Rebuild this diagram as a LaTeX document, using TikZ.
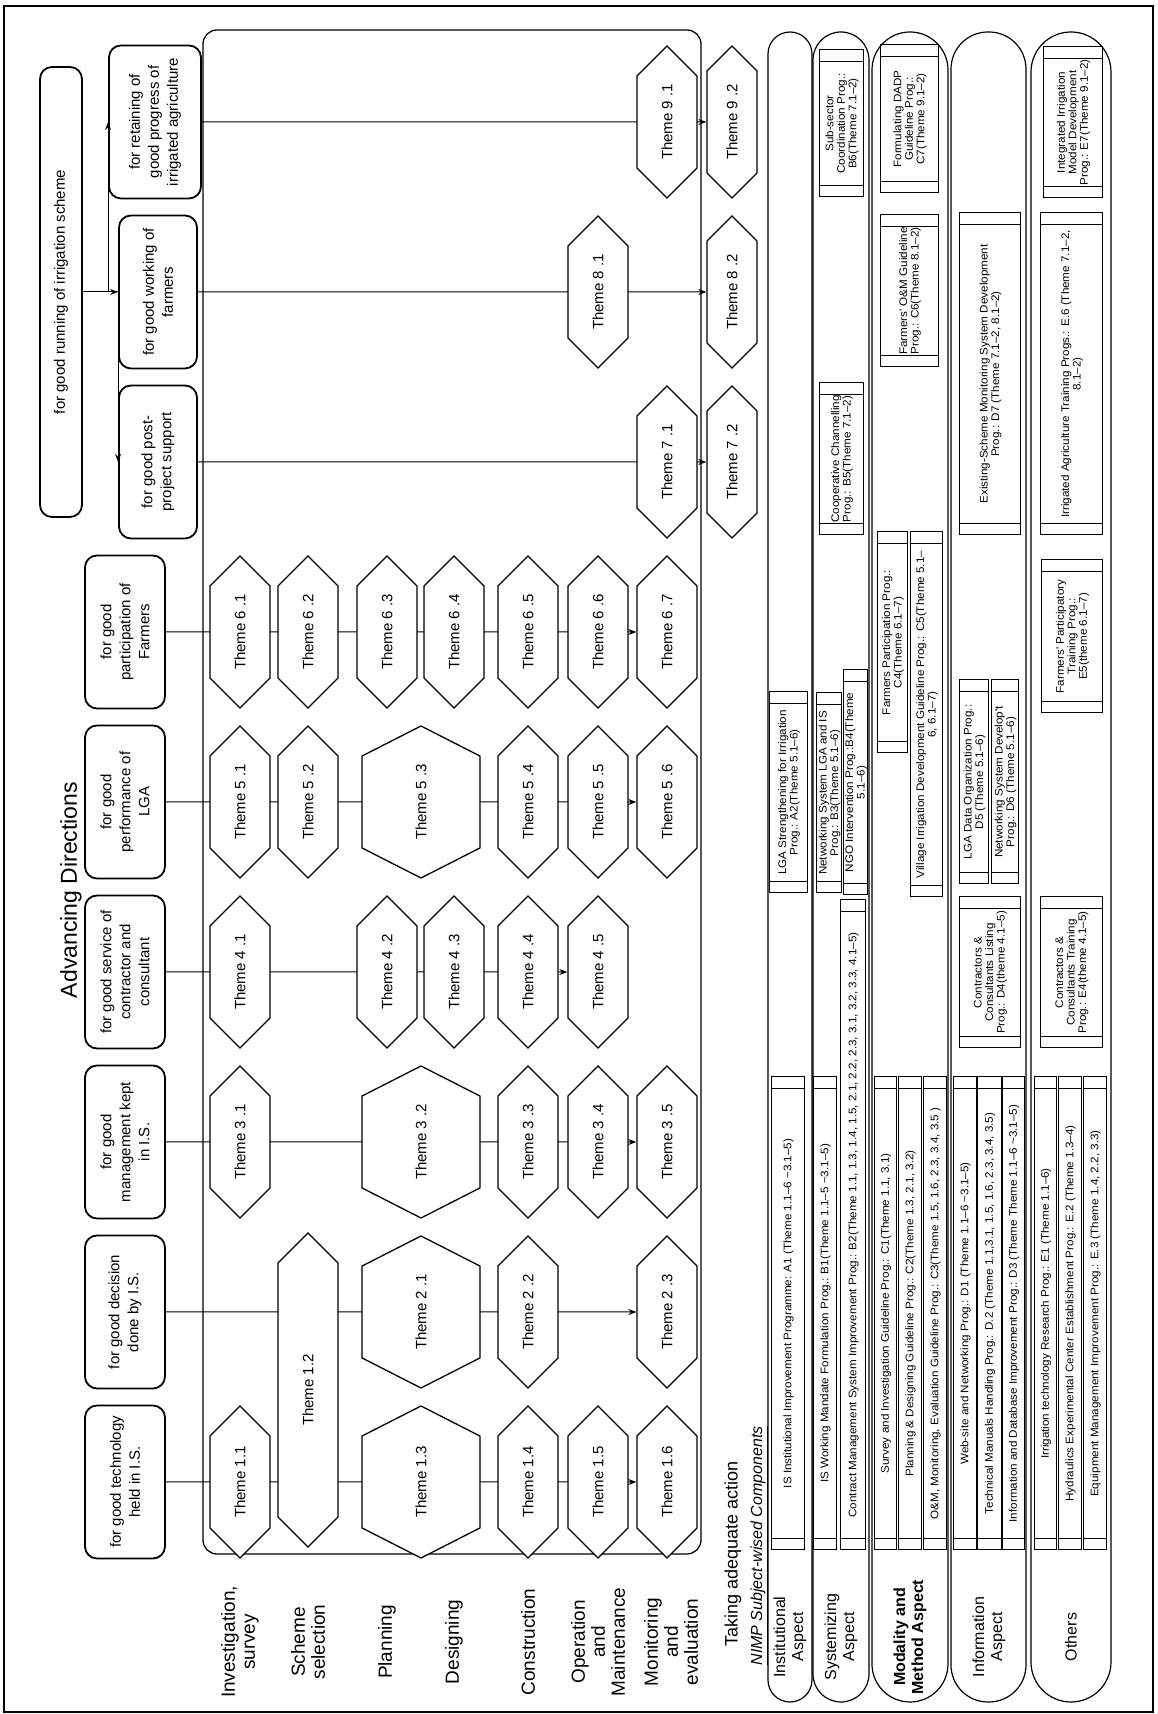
\documentclass[tikz,border=0pt]{standalone}
\usepackage{fontspec}
\setmainfont{Liberation Sans}
\newfontfamily\tabfont{Liberation Sans}[FakeStretch=1.06]
\usepackage{tikz}
\usetikzlibrary{shapes.symbols,backgrounds,calc,arrows.meta}

\newcommand{\themesize}{\fontsize{15pt}{18pt}\selectfont}
\newcommand{\boxsize}{\fontsize{15pt}{19pt}\selectfont}
\newcommand{\stagesize}{\fontsize{19pt}{20pt}\selectfont}
\newcommand{\aspectsize}{\fontsize{16pt}{18pt}\selectfont}
\newcommand{\tabsize}{\tabfont\fontsize{11pt}{11.5pt}\selectfont}
\newcommand{\wv}{\textasciitilde}

\begin{document}
\begin{tikzpicture}[x=1pt, y=1pt, rotate=90, transform shape,
    >={Stealth[length=8pt,width=6pt]},
    dirbox/.style={draw, line width=1.8pt, rounded corners=12pt, align=center,
        font=\boxsize, minimum width=153pt, minimum height=80pt, inner sep=2pt},
    theme/.style={draw, line width=1.3pt, fill=white, signal, signal to=west and east,
        signal pointer angle=90, font=\themesize, minimum width=152pt,
        minimum height=60pt, inner sep=0pt},
    bigtheme/.style={theme, minimum height=118pt, signal pointer angle=126},
    lowtheme/.style={theme, minimum height=50pt},
    comp/.style={draw, line width=1pt, align=center, font=\tabsize, inner sep=0pt,
        append after command={
          ($(\tikzlastnode.north west)!12pt!(\tikzlastnode.north east)$)
            edge[line width=1pt] ($(\tikzlastnode.south west)!12pt!(\tikzlastnode.south east)$)
          ($(\tikzlastnode.north east)!12pt!(\tikzlastnode.north west)$)
            edge[line width=1pt] ($(\tikzlastnode.south east)!12pt!(\tikzlastnode.south west)$)}},
    band/.style={draw, line width=1.2pt},
    stagelabel/.style={align=center, font=\stagesize},
    aspectlabel/.style={align=center, font=\aspectsize},
    link/.style={line width=1pt}]

    \useasboundingbox (0,0) rectangle (1714,1157);
    \draw[line width=1.2pt] (2,4) rectangle (1708,1153);

    % Title and goal
    \node[font=\fontsize{23pt}{26pt}\selectfont] (title) at (824,1086) {Advancing Directions};
    \node[dirbox, minimum width=450pt, minimum height=42pt] (run) at (1422,1096) {for good running of irrigation scheme};

    % Direction boxes
    \node[dirbox] (dTech) at (232,1032) {for good technology\\held in I.S.};
    \node[dirbox] (dDec) at (402,1032) {for good decision\\done by I.S.};
    \node[dirbox] (dMgmt) at (572,1032) {for good\\management kept\\in I.S.};
    \node[dirbox] (dCon) at (742,1032) {for good service of\\contractor and\\consultant};
    \node[dirbox] (dLga) at (912,1032) {for good\\performance of\\LGA};
    \node[dirbox] (dFarm) at (1082,1032) {for good\\participation of\\Farmers};
    \node[dirbox, minimum height=78pt] (dPost) at (1252,999) {for good post-\\project support};
    \node[dirbox, minimum height=78pt] (dWork) at (1422,999) {for good working of\\farmers};
    \node[dirbox, minimum height=92pt] (dRet) at (1592,1002) {for retaining of\\good progress of\\irrigated agriculture};

    \draw[link,->] (run.south) -- (dWork.north);
    \draw[link,->] (run.south) -- ++(0,-14) |- (dRet.north);
    \draw[link,->] (run.south) -- ++(0,-14) |- (dPost.north);

    % Stage labels
    \node[stagelabel] (sInv) at (72,917) {Investigation,\\survey};
    \node[stagelabel] (sSel) at (72,849) {Scheme\\selection};
    \node[stagelabel] (sPlan) at (72,770) {Planning};
    \node[stagelabel] (sDes) at (72,703) {Designing};
    \node[stagelabel] (sCon) at (72,629) {Construction};
    \node[stagelabel] (sOM) at (72,559) {Operation\\and\\Maintenance};
    \node[stagelabel] (sMon) at (72,486) {Monitoring\\and\\evaluation};
    \node[anchor=west, font=\fontsize{18pt}{20pt}\selectfont] (sAct) at (64,424) {Taking adequate action};

    % Themes
    \node[theme] (t11) at (232,917) {Theme 1.1};
    \node[theme, minimum width=314pt] (t12) at (324,849) {Theme 1.2};
    \node[bigtheme] (t13) at (232,736) {Theme 1.3};
    \node[theme] (t14) at (232,629) {Theme 1.4};
    \node[theme] (t15) at (232,559) {Theme 1.5};
    \node[theme] (t16) at (232,490) {Theme 1.6};

    \node[bigtheme] (t21) at (402,736) {Theme 2 .1};
    \node[theme] (t22) at (402,629) {Theme 2 .2};
    \node[theme] (t23) at (402,490) {Theme 2 .3};

    \node[theme] (t31) at (572,917) {Theme 3 .1};
    \node[bigtheme] (t32) at (572,736) {Theme 3 .2};
    \node[theme] (t33) at (572,629) {Theme 3 .3};
    \node[theme] (t34) at (572,559) {Theme 3 .4};
    \node[theme] (t35) at (572,490) {Theme 3 .5};

    \node[theme] (t41) at (742,917) {Theme 4 .1};
    \node[theme] (t42) at (742,770) {Theme 4 .2};
    \node[theme] (t43) at (742,703) {Theme 4 .3};
    \node[theme] (t44) at (742,629) {Theme 4 .4};
    \node[theme] (t45) at (742,559) {Theme 4 .5};

    \node[theme] (t51) at (912,917) {Theme 5 .1};
    \node[theme] (t52) at (912,849) {Theme 5 .2};
    \node[bigtheme] (t53) at (912,736) {Theme 5 .3};
    \node[theme] (t54) at (912,629) {Theme 5 .4};
    \node[theme] (t55) at (912,559) {Theme 5 .5};
    \node[theme] (t56) at (912,490) {Theme 5 .6};

    \node[theme] (t61) at (1082,917) {Theme 6 .1};
    \node[theme] (t62) at (1082,849) {Theme 6 .2};
    \node[theme] (t63) at (1082,770) {Theme 6 .3};
    \node[theme] (t64) at (1082,703) {Theme 6 .4};
    \node[theme] (t65) at (1082,629) {Theme 6 .5};
    \node[theme] (t66) at (1082,559) {Theme 6 .6};
    \node[theme] (t67) at (1082,490) {Theme 6 .7};

    \node[theme] (t71) at (1252,490) {Theme 7 .1};
    \node[lowtheme] (t72) at (1252,425) {Theme 7 .2};
    \node[theme] (t81) at (1422,559) {Theme 8 .1};
    \node[lowtheme] (t82) at (1422,425) {Theme 8 .2};
    \node[theme] (t91) at (1592,490) {Theme 9 .1};
    \node[lowtheme] (t92) at (1592,425) {Theme 9 .2};

    % Frame and column lines
    \begin{scope}[on background layer]
        \draw[line width=1.3pt, rounded corners=14pt] (160,456) rectangle (1684,954);
        \draw[link,->] (dTech) -- (t16);
        \draw[link,->] (dDec) -- (t23);
        \draw[link,->] (dMgmt) -- (t35);
        \draw[link,->] (dCon) -- (t45);
        \draw[link,->] (dLga) -- (t56);
        \draw[link,->] (dFarm) -- (t67);
        \draw[link,->] (dPost) -- (t72);
        \draw[link,->] (dWork) -- (t82);
        \draw[link,->] (dRet) -- (t92);
    \end{scope}

    % NIMP components
    \node[anchor=west, font=\fontsize{16pt}{18pt}\selectfont\itshape] (nimp) at (45,398) {\underline{NIMP Subject-wised Components}};

    \draw[band, rounded corners=22pt] (12,345) rectangle (1682,389);
    \draw[band, rounded corners=28pt] (12,288) rectangle (1682,344);
    \draw[band, rounded corners=38pt] (12,209) rectangle (1682,285);
    \draw[band, rounded corners=37pt] (12,131) rectangle (1682,206);
    \draw[band, rounded corners=40pt] (12,46) rectangle (1682,126);

    \node[aspectlabel] (aInst) at (77,367) {Institutional\\Aspect};
    \node[aspectlabel] (aSys) at (77,316) {Systemizing\\Aspect};
    \node[aspectlabel, font=\aspectsize\bfseries] (aMod) at (77,247) {Modality and\\Method Aspect};
    \node[aspectlabel] (aInf) at (77,168) {Information\\Aspect};
    \node[aspectlabel] (aOth) at (77,86) {Others};

    % Institutional
    \node[comp, minimum width=473pt, minimum height=33pt] (A1) at (400.5,368.5) {IS Institutional Improvement Programme: A1 (Theme 1.1–6 \wv3.1–5)};
    \node[comp, minimum width=201pt, minimum height=38pt] (A2) at (921.5,368) {LGA Strengthening for Irrigation\\Prog.: A2(Theme 5.1–6)};

    % Systemizing
    \node[comp, minimum width=473pt, minimum height=23pt] (B1) at (400.5,331.5) {IS Working Mandate Formulation Prog.: B1(Theme 1.1–5 \wv3.1–5)};
    \node[comp, minimum width=650pt, minimum height=25pt] (B2) at (489,303.5) {Contract Management System Improvement Prog.: B2(Theme 1.1, 1.3, 1.4, 1.5, 2.1, 2.2, 2.3, 3.1, 3.2, 3.3, 4.1–5)};
    \node[comp, minimum width=200pt, minimum height=25pt] (B3) at (921,327.5) {Networking System LGA and IS\\Prog.: B3(Theme 5.1–6)};
    \node[comp, minimum width=225pt, minimum height=24pt] (B4) at (931.5,301) {NGO Intervention Prog.:B4(Theme\\5.1–6)};
    \node[comp, minimum width=152pt, minimum height=44pt] (B5) at (1255,315) {Cooperative Channelling\\Prog.: B5(Theme 7.1–2)};
    \node[comp, minimum width=147pt, minimum height=44pt] (B6) at (1590.5,315) {Sub-sector\\Coordination Prog.:\\B6(Theme 7.1–2)};

    % Modality and method
    \node[comp, minimum width=473pt, minimum height=22pt] (C1) at (400.5,271) {Survey and Investigation Guideline Prog.: C1(Theme 1.1, 3.1)};
    \node[comp, minimum width=473pt, minimum height=23pt] (C2) at (400.5,246.5) {Planning \& Designing Guideline Prog.: C2(Theme 1.3, 2.1, 3.2)};
    \node[comp, minimum width=473pt, minimum height=23pt] (C3) at (400.5,221.5) {O\&M, Monitoring, Evaluation Guideline Prog.: C3(Theme 1.5, 1.6, 2.3, 3.4, 3.5 )};
    \node[comp, minimum width=221pt, minimum height=30pt] (C4) at (1071.5,264) {Farmers Participation Prog.:\\C4(Theme 6.1–7)};
    \node[comp, minimum width=365pt, minimum height=32pt] (C5) at (999.5,230) {Village Irrigation Development Guideline Prog.: C5(Theme 5.1–\\6, 6.1–7)};
    \node[comp, minimum width=152pt, minimum height=58pt] (C6) at (1423,247) {Farmers' O\&M Guideline\\Prog.: C6(Theme 8.1–2)};
    \node[comp, minimum width=148pt, minimum height=58pt] (C7) at (1595,247) {Formulating DADP\\Guideline Prog.:\\C7(Theme 9.1–2)};

    % Information
    \node[comp, minimum width=473pt, minimum height=23pt] (D1) at (400.5,191.5) {Web-site and Networking Prog.: D1 (Theme 1.1–6 \wv3.1–5)};
    \node[comp, minimum width=473pt, minimum height=24pt] (D2) at (400.5,167) {Technical Manuals Handling Prog.: D.2 (Theme 1.1,3.1, 1.5, 1.6, 2.3, 3.4, 3.5)};
    \node[comp, minimum width=473pt, minimum height=22pt] (D3) at (400.5,143) {Information and Database Improvement Prog.: D3 (Theme Theme 1.1–6 \wv3.1–5)};
    \node[comp, minimum width=151pt, minimum height=61pt] (D4) at (741.5,166.5) {Contractors \&\\Consultants Listing\\Prog.: D4(theme 4.1–5)};
    \node[comp, minimum width=204pt, minimum height=29pt] (D5) at (932,182.5) {LGA Data Organization Prog.:\\D5 (Theme 5.1–6)};
    \node[comp, minimum width=204pt, minimum height=27pt] (D6) at (932,151.5) {Networking System Develop't\\Prog.: D6 (Theme 5.1–6)};
    \node[comp, minimum width=322pt, minimum height=61pt] (D7) at (1340,166.5) {Existing-Scheme Monitoring System Development\\Prog.: D7 (Theme 7.1–2, 8.1–2)};

    % Others
    \node[comp, minimum width=473pt, minimum height=22pt] (E1) at (400.5,111) {Irrigation technology Research Prog.: E1 (Theme 1.1–6)};
    \node[comp, minimum width=473pt, minimum height=23pt] (E2) at (400.5,86.5) {Hydraulics Experimental Center Establishment Prog.: E.2 (Theme 1.3–4)};
    \node[comp, minimum width=473pt, minimum height=23pt] (E3) at (400.5,61.5) {Equipment Management Improvement Prog.: E.3 (Theme 1.4, 2.2, 3.3)};
    \node[comp, minimum width=151pt, minimum height=62pt] (E4) at (741.5,85) {Contractors \&\\Consultants Training\\Prog.: E4(theme 4.1–5)};
    \node[comp, minimum width=153pt, minimum height=61pt] (E5) at (1077.5,84.5) {Farmers' Participatory\\Training Prog.:\\E5(theme 6.1–7)};
    \node[comp, minimum width=322pt, minimum height=62pt] (E6) at (1340,85) {Irrigated Agriculture Training Progs.: E.6 (Theme 7.1–2,\\8.1–2)};
    \node[comp, minimum width=151pt, minimum height=59pt] (E7) at (1591.5,83.5) {Integrated Irrigation\\Model Development\\Prog.: E7(Theme 9.1–2)};
\end{tikzpicture}
\end{document}
